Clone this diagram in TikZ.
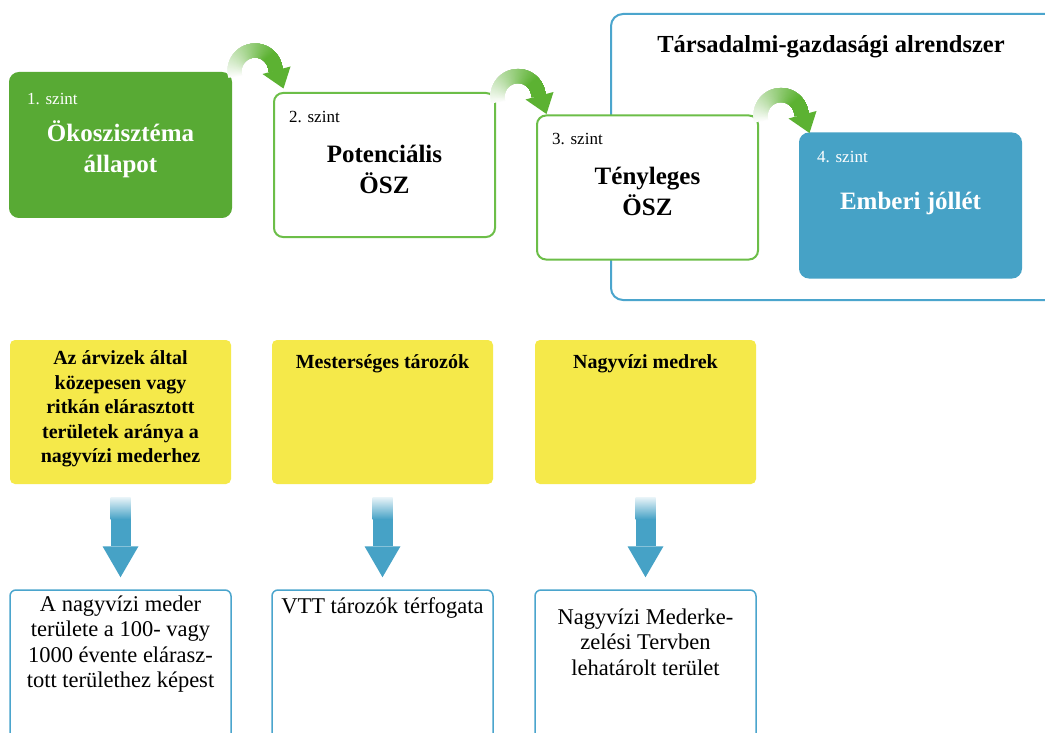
\documentclass[tikz,border=0pt]{standalone}
\usepackage{fontspec}
\setmainfont{Liberation Serif}
\usetikzlibrary{calc}
\definecolor{lgreen}{RGB}{88,170,52}
\definecolor{agreen}{RGB}{92,178,50}
\definecolor{bgreen}{RGB}{108,190,72}
\definecolor{lblue}{RGB}{70,162,198}
\definecolor{fblue}{RGB}{75,165,205}
\definecolor{lyellow}{RGB}{245,233,74}
\tikzset{
  lvlbox/.style={minimum width=221pt, minimum height=144pt, rounded corners=9pt, line width=2pt, inner sep=0pt},
  ybox/.style={fill=lyellow, minimum width=221pt, minimum height=144pt, rounded corners=5pt, inner sep=0pt},
  zbox/.style={draw=fblue, fill=white, line width=1.5pt, minimum width=221pt, minimum height=160pt, rounded corners=6pt, inner sep=0pt},
  lvllabel/.style={anchor=west, font=\fontsize{17}{19}\selectfont, inner sep=0pt},
  heading/.style={align=center, font=\bfseries\fontsize{25}{31}\selectfont},
  ytext/.style={align=center, font=\bfseries\fontsize{20}{24.5}\selectfont},
  ztext/.style={align=center, font=\fontsize{22.5}{25.5}\selectfont},
}
\newcommand{\greenarc}[1]{%
  \begin{scope}[shift={#1}, yscale=-1]
    \foreach \i in {0,...,79} {
      \pgfmathsetmacro\aa{196-\i*2.45}
      \pgfmathsetmacro\cc{min(100,2+\i*1.6)}
      \draw[line width=14pt, color=agreen!\cc!white] (\aa:20.5) arc[start angle=\aa, end angle=1, radius=20.5];
    }
    \fill[agreen] (7.5,-3) -- (35.5,4.5) -- (28.5,-17.5) -- cycle;
  \end{scope}}
\newcommand{\bluedown}[2]{%
  \path let \p1=(#1), \p2=(#2) in
    coordinate (t) at (\x1, \y1-13pt) coordinate (h) at (\x2, \y2+12pt);
  \shade[top color=lblue!12!white, bottom color=lblue] ($(t)+(-10,0)$) rectangle ($(t)+(10,22)$);
  \fill[lblue] ($(t)+(-10,21.5)$) rectangle ($(h)+(10,-31)$);
  \fill[lblue] ($(h)+(-18,-31)$) -- ($(h)+(18,-31)$) -- (h) -- cycle;}
\begin{document}
\begin{tikzpicture}[x=1pt,y=-1pt]
\clip (0,0) rectangle (1045,733);
\fill[white] (0,0) rectangle (1045,733);
% outer frame
\draw[fblue, line width=2pt, rounded corners=12pt] (611,14) rectangle (1075,300);
\node[heading, font=\bfseries\fontsize{24.5}{30}\selectfont] (title) at (831,47) {Társadalmi-gazdasági alrendszer};
% level boxes
\node[lvlbox, fill=lgreen, draw=lgreen] (b1) at (120.5,145) {};
\node[lvlbox, fill=white, draw=bgreen] (b2) at (384.5,165) {};
\node[lvlbox, fill=white, draw=bgreen] (b3) at (647.5,187.5) {};
\node[lvlbox, fill=lblue, draw=lblue] (b4) at (910.5,205.5) {};
\node[lvllabel, text=white] (l1) at ($(b1.north west)+(18,27)$) {1. szint};
\node[lvllabel] (l2) at ($(b2.north west)+(16,25)$) {2. szint};
\node[lvllabel] (l3) at ($(b3.north west)+(16,24)$) {3. szint};
\node[lvllabel, text=white] (l4) at ($(b4.north west)+(18,24)$) {4. szint};
\node[heading, text=white] (h1) at ($(b1.center)+(0,4)$) {Ökoszisztéma\\állapot};
\node[heading] (h2) at ($(b2.center)+(0,4)$) {Potenciális\\ÖSZ};
\node[heading] (h3) at ($(b3.center)+(0,4)$) {Tényleges\\ÖSZ};
\node[heading, text=white] (h4) at ($(b4.center)+(0,-2.5)$) {Emberi jóllét};
% curved arrows
\greenarc{($(b2.north west)+(-18,-21)$)}
\greenarc{($(b3.north west)+(-18,-18)$)}
\greenarc{($(b4.north west)+(-18,-17)$)}
% yellow boxes
\node[ybox] (y1) at (120.5,412) {};
\node[ybox] (y2) at (382.5,412) {};
\node[ybox] (y3) at (645.5,412) {};
\node[ytext] (yt1) at ($(y1.center)+(0,-3)$) {Az árvizek által\\közepesen vagy\\ritkán elárasztott\\területek aránya a\\nagyvízi mederhez};
\node[ytext] (yt2) at ($(y2.north)+(0,24)$) {Mesterséges tározók};
\node[ytext] (yt3) at ($(y3.north)+(0,24)$) {Nagyvízi medrek};
% bottom boxes
\node[zbox] (z1) at (120.5,670) {};
\node[zbox] (z2) at (382.5,670) {};
\node[zbox] (z3) at (645.5,670) {};
\node[ztext] (zt1) at ($(z1.north)+(0,55)$) {A nagyvízi meder\\területe a 100- vagy\\1000 évente elárasz-\\tott területhez képest};
\node[ztext] (zt2) at ($(z2.north)+(0,19)$) {VTT tározók térfogata};
\node[ztext] (zt3) at ($(z3.north)+(0,53)$) {Nagyvízi Mederke-\\zelési Tervben\\lehatárolt terület};
% blue arrows
\bluedown{y1.south}{z1.north}
\bluedown{y2.south}{z2.north}
\bluedown{y3.south}{z3.north}
\end{tikzpicture}
\end{document}
